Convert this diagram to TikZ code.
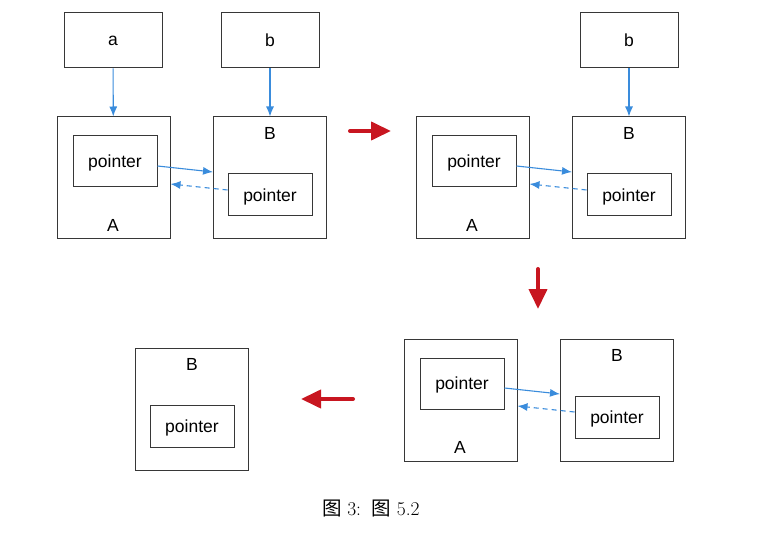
\documentclass[tikz,border=0pt]{standalone}
\usepackage{fontspec}
\setmainfont{Liberation Sans}
\newfontfamily\lmfont{Latin Modern Roman}
\newfontfamily\cjkfont{Noto Sans CJK SC}
\usetikzlibrary{arrows.meta,calc}
\definecolor{linkblue}{RGB}{58,140,220}
\definecolor{flowred}{RGB}{200,22,32}
\definecolor{boxgray}{RGB}{55,55,55}
\tikzset{
  frame/.style={draw=boxgray,line width=1pt,minimum width=113pt,minimum height=122pt,inner sep=0pt},
  varbox/.style={draw=boxgray,line width=1pt,minimum width=98pt,minimum height=55pt,inner sep=0pt,font=\fontsize{17.5}{20}\selectfont},
  ptrbox/.style={draw=boxgray,line width=1pt,minimum width=84pt,inner sep=0pt},
  lbl/.style={inner sep=0pt,font=\fontsize{17.5}{20}\selectfont},
  link/.style={draw=linkblue,line width=1.1pt,-{Latex[length=10pt,width=8pt]}},
  back/.style={link,dashed,dash pattern=on 5pt off 4pt},
  flow/.style={draw=flowred,line width=4pt,line cap=round,-{Triangle[length=20pt,width=18pt]}}
}
\newcommand{\mypair}[1]{%
  \node[frame] (#1A) at (113.5,178) {};
  \node[frame] (#1B) at (270,178) {};
  \node[ptrbox,minimum height=51pt] (#1pA) at (115,161.5) {};
  \node[ptrbox,minimum height=42pt] (#1pB) at (270,195) {};
  \node[lbl] (#1tA) at (115,163) {pointer};
  \node[lbl] (#1tB) at (270,196.5) {pointer};
  \node[lbl] (#1lA) at (113,225) {A};
  \node[lbl] (#1lB) at (270,133) {B};
  \draw[link] ($(#1pA.east)+(0,4.5)$) -- ($(#1B.west)+(0,-6)$);
  \draw[back] ($(#1pB.west)+(0,-5)$) -- ($(#1A.east)+(0,6)$);
}
\begin{document}
\begin{tikzpicture}[x=1pt,y=-1pt]
\useasboundingbox (0,0) rectangle (767,534);
% panel 1
\begin{scope}
  \mypair{p}
  \node[varbox] (va) at (113,40.5) {a};
  \node[varbox] (vb) at (270,40.5) {b};
  \draw[link] (va) -- (pA);
  \draw[link] (vb) -- (pB);
\end{scope}
% panel 2
\begin{scope}[shift={(359,0)}]
  \mypair{q}
  \node[varbox] (wb) at (270,40.5) {b};
  \draw[link] (wb) -- (qB);
\end{scope}
% panel 3
\begin{scope}[shift={(347,222)}]
  \mypair{r}
\end{scope}
% panel 4
\begin{scope}[shift={(-78,231)}]
  \node[frame] (sB) at (270,178) {};
  \node[ptrbox,minimum height=42pt] (spB) at (270,195) {};
  \node[lbl] (stB) at (270,196.5) {pointer};
  \node[lbl] (slB) at (270,133) {B};
\end{scope}
% red flow arrows
\coordinate (f1s) at (350,131); \coordinate (f1e) at (391,131);
\coordinate (f2s) at (538,269); \coordinate (f2e) at (538,309);
\coordinate (f3s) at (353,399); \coordinate (f3e) at (301,399);
\draw[flow] (f1s) -- (f1e);
\draw[flow] (f2s) -- (f2e);
\draw[flow] (f3s) -- (f3e);
% caption
\node[inner sep=0pt,font=\fontsize{19.5}{22}\selectfont] (cap) at (371,509)
  {{\cjkfont 图}\ {\lmfont 3:}\ \ {\cjkfont 图}\ {\lmfont 5.2}};
\end{tikzpicture}
\end{document}
